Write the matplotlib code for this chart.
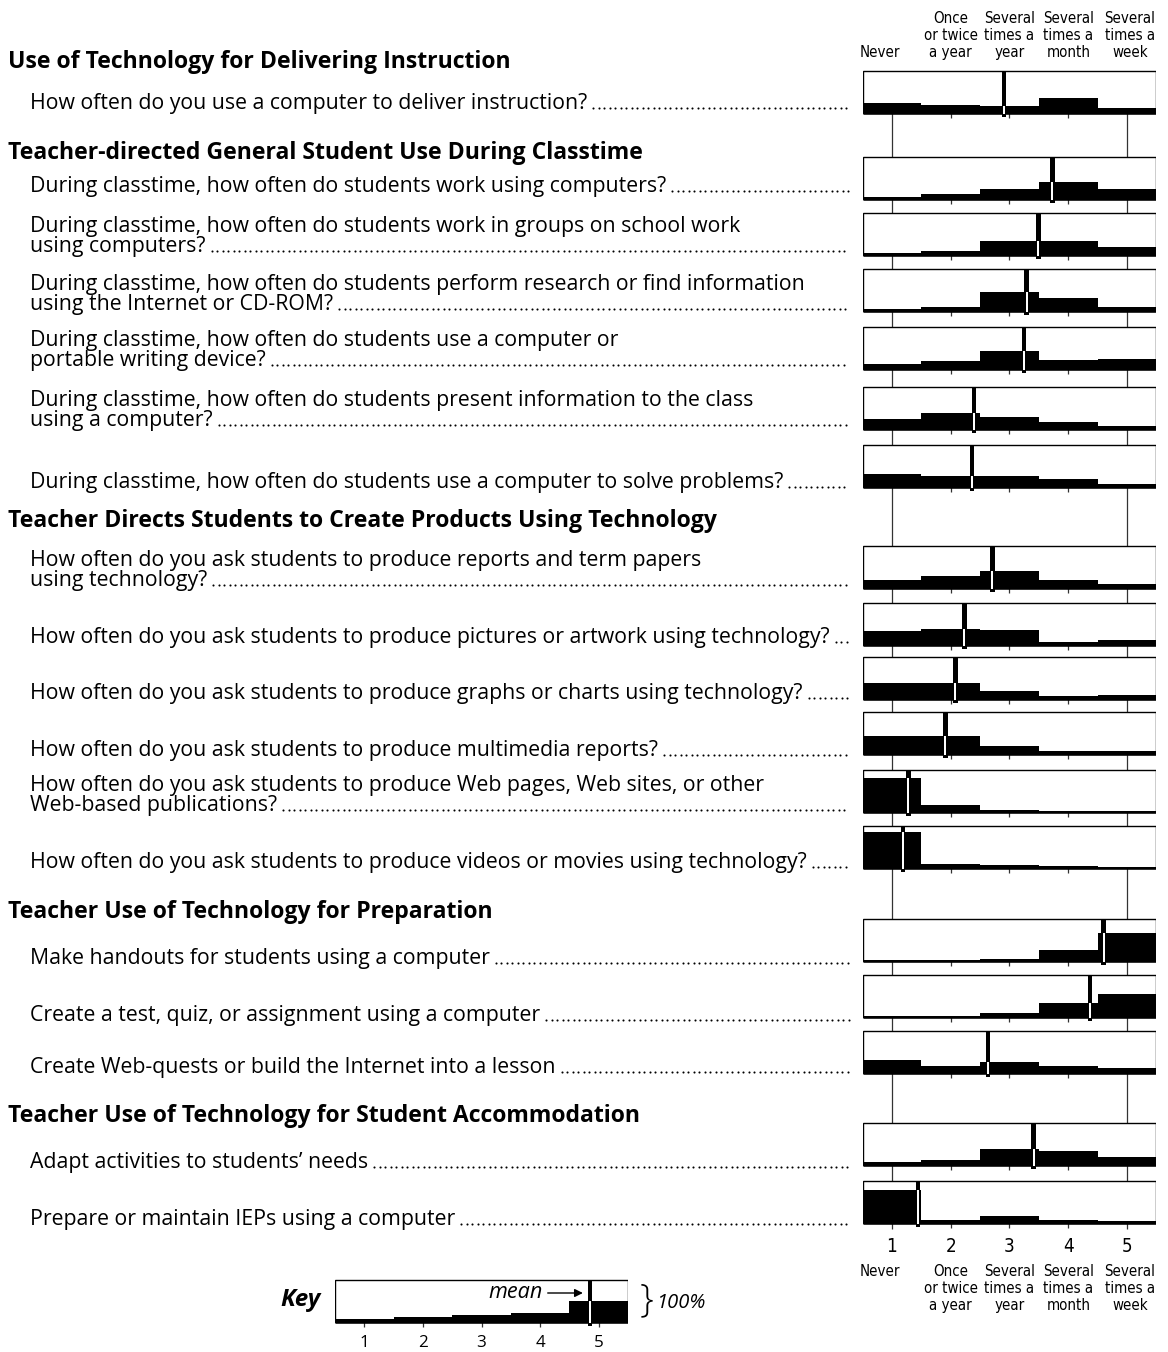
import numpy as np
import matplotlib
matplotlib.use("Agg")
import matplotlib.pyplot as plt
from matplotlib import font_manager
from matplotlib.patches import Rectangle

W, H = 1168, 1352

# ---- data -------------------------------------------------------------
scale_points = [1, 2, 3, 4, 5]
scale_labels = ["Never", "Once\nor twice\na year", "Several\ntimes a\nyear",
                "Several\ntimes a\nmonth", "Several\ntimes a\nweek"]

section_titles = [
    "Use of Technology for Delivering Instruction",
    "Teacher-directed General Student Use During Classtime",
    "Teacher Directs Students to Create Products Using Technology",
    "Teacher Use of Technology for Preparation",
    "Teacher Use of Technology for Student Accommodation",
]

questions = [
    ["How often do you use a computer to deliver instruction?"],
    ["During classtime, how often do students work using computers?"],
    ["During classtime, how often do students work in groups on school work", "using computers?"],
    ["During classtime, how often do students perform research or find information", "using the Internet or CD-ROM?"],
    ["During classtime, how often do students use a computer or", "portable writing device?"],
    ["During classtime, how often do students present information to the class", "using a computer?"],
    ["During classtime, how often do students use a computer to solve problems?"],
    ["How often do you ask students to produce reports and term papers", "using technology?"],
    ["How often do you ask students to produce pictures or artwork using technology?"],
    ["How often do you ask students to produce graphs or charts using technology?"],
    ["How often do you ask students to produce multimedia reports?"],
    ["How often do you ask students to produce Web pages, Web sites, or other", "Web-based publications?"],
    ["How often do you ask students to produce videos or movies using technology?"],
    ["Make handouts for students using a computer"],
    ["Create a test, quiz, or assignment using a computer"],
    ["Create Web-quests or build the Internet into a lesson"],
    ["Adapt activities to students\u2019 needs"],
    ["Prepare or maintain IEPs using a computer"],
]

# share of responses (% of box height) at each scale point, one row per question
pct_never    = [25,  4,  4,  4, 13, 25, 32, 20, 33, 39, 44, 81, 86,  2,  3, 31,  8, 78]
pct_once     = [20, 11, 10, 10, 18, 39, 27, 29, 37, 39, 42, 16, 10,  2,  3, 17, 11,  8]
pct_sev_year = [17, 23, 34, 46, 42, 28, 27, 41, 35, 18, 20,  4,  6,  5,  9, 26, 38, 17]
pct_sev_mon  = [35, 40, 34, 32, 21, 16, 18, 20,  8,  6,  6,  2,  4, 26, 33, 16, 34,  6]
pct_sev_week = [13, 23, 18, 10, 23,  7,  6, 10, 12, 10,  8,  2,  2, 66, 54, 13, 18,  4]
means = [2.91, 3.73, 3.49, 3.29, 3.25, 2.40, 2.36, 2.71, 2.23, 2.08, 1.91,
         1.28, 1.19, 4.60, 4.37, 2.63, 3.41, 1.44]

key_pct = [6, 11, 16, 22, 50]
key_mean = 4.85

# ---- layout (pixels) --------------------------------------------------
box_top = [71, 157, 213, 269, 327, 387, 445, 546, 603, 657, 712, 770, 826,
           919, 975, 1031, 1123, 1181]
text_y = [103, 186, 246, 304, 360, 420, 482, 580, 637, 693, 750, 805, 862,
          958, 1015, 1067, 1162, 1219]
section_y = [62, 153, 521, 912, 1116]
BOX_H = 42
LINE_GAP = 20
KEY_TOP = 1280
MARK_W = 4.5 / 58.75

BODY = "Open Sans"


def narrow_font():
    # a condensed face for the scale labels, if one is installed
    names = [f.fname for f in font_manager.fontManager.ttflist]
    for want in ("LiberationSansNarrow-Regular", "DejaVuSansCondensed.ttf",
                 "Condensed-Regular", "Narrow-Regular", "Condensed.ttf"):
        for fn in names:
            if want in fn.replace(" ", ""):
                return font_manager.FontProperties(fname=fn)
    return font_manager.FontProperties(family="Roboto")


NARROW = narrow_font()

fig = plt.figure(figsize=(W / 100, H / 100), dpi=100)
bg = fig.add_axes([0, 0, 1, 1])
bg.set_xlim(0, W)
bg.set_ylim(H, 0)
bg.axis("off")
renderer = fig.canvas.get_renderer()


def fit_size(text, width_px, **kw):
    t = bg.text(0, 0, text, fontsize=10, **kw)
    w = t.get_window_extent(renderer).width
    t.remove()
    return 10 * width_px / w


q_size = fit_size(questions[3][0], 773, family=BODY)
h_size = fit_size(section_titles[2], 712, family=BODY, weight="bold")
n_size = fit_size("or twice", 54, fontproperties=NARROW)

# ---- left side text ---------------------------------------------------
for title, y in zip(section_titles, section_y):
    bg.text(8, y, title, fontsize=h_size, family=BODY, weight="bold", va="center")

for lines, y_last in zip(questions, text_y):
    n = len(lines)
    for j, line in enumerate(lines):
        y = y_last - (n - 1 - j) * LINE_GAP
        t = bg.text(30, y + 6, line, fontsize=q_size, family=BODY, va="baseline")
    x_end = bg.transData.inverted().transform(
        (t.get_window_extent(renderer).x1, 0))[0]
    dots = np.arange(x_end + 6, 849, 5.5)
    bg.plot(dots, np.full(len(dots), y_last + 5), "o", ms=1.5, color="black", mew=0)

# ---- right panel ------------------------------------------------------
x0, x1 = 862.6, 1156.4
ax = fig.add_axes([x0 / W, 0, (x1 - x0) / W, 1])
ax.set_xlim(0.5, 5.5)
ax.set_ylim(H, 0)
ax.axis("off")

pct = np.column_stack([pct_never, pct_once, pct_sev_year, pct_sev_mon, pct_sev_week])


def draw_box(a, top, row, mean, ticks):
    bot = top + BOX_H
    a.add_patch(Rectangle((0.5, top), 5, BOX_H, facecolor="white",
                          edgecolor="black", lw=1.0, zorder=2))
    a.bar(scale_points, -np.asarray(row) / 100 * BOX_H, width=1.0, bottom=bot,
          color="black", lw=0, zorder=3)
    a.plot([0.5, 5.5], [bot, bot], color="black", lw=1.8, zorder=3,
           solid_capstyle="butt")
    a.vlines(ticks, bot, bot + 5, color="#333333", lw=0.9, zorder=1)
    lvl = row[int(round(mean)) - 1] / 100 * BOX_H
    a.bar(mean, BOX_H + 3.5, width=MARK_W, bottom=top, color="black", lw=0, zorder=4)
    a.bar(mean, -(lvl + 1), width=MARK_W * 0.45, bottom=bot + 1, color="white",
          lw=0, zorder=5)


for i in range(len(questions)):
    draw_box(ax, box_top[i], pct[i], means[i], [2, 3, 4])

ax.vlines([1, 5], box_top[0] + BOX_H, box_top[-1] + BOX_H + 6,
          color="#333333", lw=0.9, zorder=1)

label_x = [0.8, 2, 3, 4, 5.05]
for x, lab in zip(label_x, scale_labels):
    ax.text(x, 60, lab, ha="center", va="bottom", fontproperties=NARROW,
            fontsize=n_size, linespacing=1.15)
    ax.text(x, 1264, lab, ha="center", va="top", fontproperties=NARROW,
            fontsize=n_size, linespacing=1.15)
for k in scale_points:
    ax.text(k, 1247, str(k), ha="center", va="center", fontproperties=NARROW,
            fontsize=n_size * 1.25)

# ---- key --------------------------------------------------------------
kx = fig.add_axes([335 / W, 0, 293 / W, 1])
kx.set_xlim(0.5, 5.5)
kx.set_ylim(H, 0)
kx.axis("off")
draw_box(kx, KEY_TOP, np.array(key_pct), key_mean, scale_points)
for k in scale_points:
    kx.text(k, 1343, str(k), ha="center", va="center", fontsize=q_size * 0.8,
            family=BODY)
kx.text(4.05, KEY_TOP + 12, "mean", ha="right", va="center", style="italic",
        fontsize=q_size * 1.02, family=BODY)
kx.annotate("", xy=(key_mean - 0.12, KEY_TOP + 13), xytext=(4.13, KEY_TOP + 13),
            arrowprops=dict(arrowstyle="-|>", color="black", lw=1.0,
                            mutation_scale=12, shrinkA=0, shrinkB=0))

bg.text(321, 1300, "Key", ha="right", va="center", fontsize=h_size * 1.05,
        family=BODY, weight="bold", style="italic")
bg.text(640, KEY_TOP + BOX_H / 2, "}", ha="left", va="center", fontsize=28,
        family=BODY, weight="light")
bg.text(656, KEY_TOP + BOX_H / 2 + 2, "100%", ha="left", va="center",
        style="italic", fontsize=q_size * 0.95, family=BODY)

fig.savefig("out.png", dpi=100)
